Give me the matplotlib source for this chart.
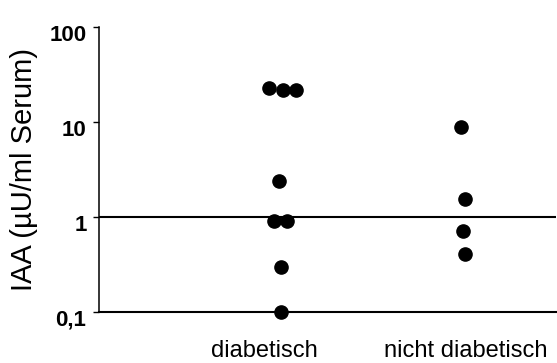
import matplotlib
matplotlib.use('Agg')
import matplotlib.pyplot as plt
import matplotlib.transforms as mtransforms
import numpy as np

plt.rcParams['font.family'] = ['Liberation Sans', 'DejaVu Sans']

# IAA values
groups = ['diabetisch', 'nicht diabetisch']
diabetisch = [23, 21.8, 21.8, 2.41, 0.9, 0.9, 0.3, 0.1]
nicht_diabetisch = [8.9, 1.55, 0.71, 0.41]
y_ticks = [0.1, 1, 10, 100]
y_tick_labels = ['0,1', '1', '10', '100']

# horizontal scatter of the dots around each group position
offset_diab = [0.025, 0.094, 0.158, 0.074, 0.05, 0.114, 0.084, 0.084]
offset_nicht = [-0.025, -0.005, -0.015, -0.005]

fig = plt.figure(figsize=(5.57, 3.63), dpi=100)
ax = fig.add_axes([99 / 557, 51 / 363, 457 / 557, 285 / 363])

ax.plot(1 + np.array(offset_diab), diabetisch, 'o', color='black',
        markersize=9.5, clip_on=False, zorder=3)
ax.plot(2 + np.array(offset_nicht), nicht_diabetisch, 'o', color='black',
        markersize=9.5, clip_on=False, zorder=3)

ax.axhline(1, color='black', linewidth=1.5, zorder=2)

ax.set_yscale('log')
ax.set_ylim(0.1, 100)
ax.set_xlim(1 - 165 / 202, 2 + 90 / 202)
ax.minorticks_off()
ax.set_yticks(y_ticks)
ax.set_yticklabels(y_tick_labels, fontsize=16, fontweight='bold')
ax.tick_params(axis='y', length=4, width=1, pad=5)
ax.set_xticks([1, 2])
ax.set_xticklabels(groups, fontsize=17)
ax.tick_params(axis='x', length=0, pad=20)

# tick labels sit a bit below their ticks in the original
shift = mtransforms.ScaledTranslation(0, -4 / 72, fig.dpi_scale_trans)
for lbl in ax.get_yticklabels():
    lbl.set_transform(lbl.get_transform() + shift)

ax.set_ylabel('IAA (µU/ml Serum)', fontsize=21, labelpad=8)

for side in ['top', 'right']:
    ax.spines[side].set_visible(False)
ax.spines['left'].set_linewidth(1.1)
ax.spines['bottom'].set_linewidth(1.5)

plt.savefig('out.png', dpi=100)
plt.close()
